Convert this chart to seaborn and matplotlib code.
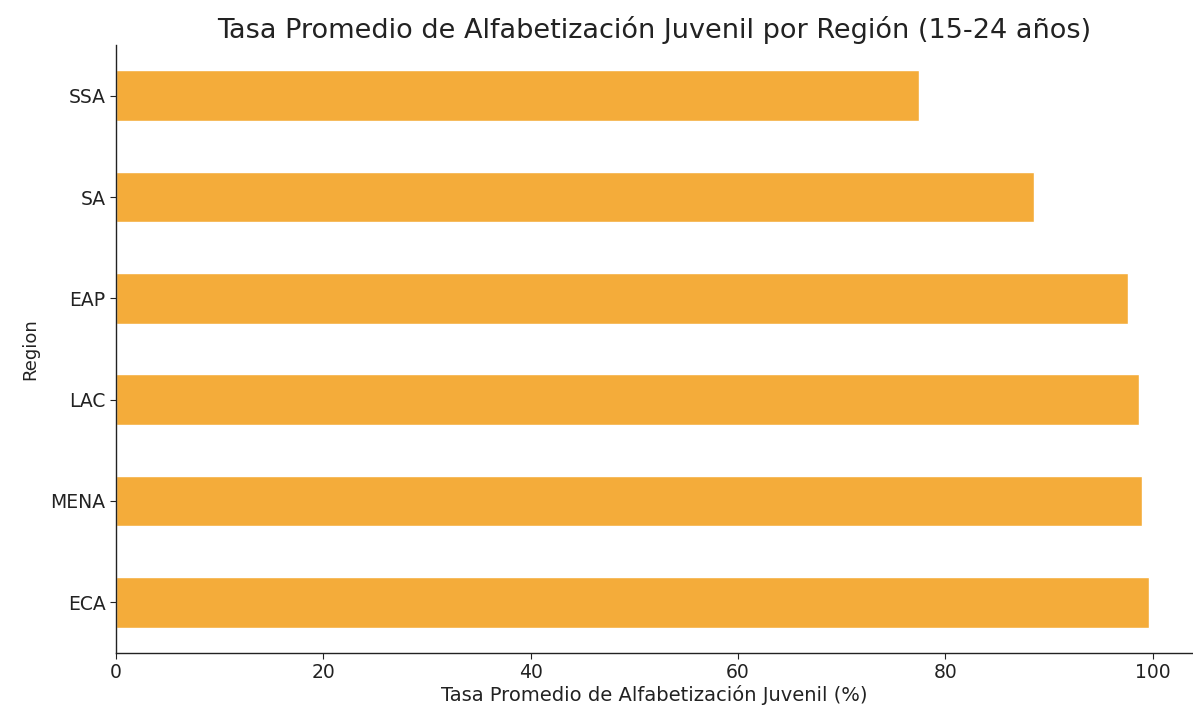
import matplotlib
matplotlib.use("Agg")
import matplotlib.pyplot as plt
import seaborn as sns
import pandas as pd

# Average youth literacy rate (15-24) by region
regions = ["SSA", "SA", "EAP", "LAC", "MENA", "ECA"]
literacy = [77.5, 88.6, 97.6, 98.7, 99.0, 99.7]

df = pd.DataFrame({"Region": regions, "Literacy": literacy})

sns.set_style("white")
plt.rcParams["font.family"] = ["DejaVu Sans"]

fig = plt.figure(figsize=(11.93, 7.10), dpi=100)
ax = fig.add_axes([0.0972, 0.0803, 0.9028, 0.8563])

sns.barplot(data=df, x="Literacy", y="Region", order=regions,
            color="#F4AC3A", saturation=1, width=0.5, ax=ax)

ax.set_xlim(0, 103.9)
ax.set_ylim(5.5, -0.5)
ax.set_xticks([0, 20, 40, 60, 80, 100])

ax.set_title("Tasa Promedio de Alfabetización Juvenil por Región (15-24 años)",
             fontsize=19.5, color="#222222", pad=5)
ax.set_xlabel("Tasa Promedio de Alfabetización Juvenil (%)", fontsize=14,
              color="#222222", labelpad=2)
ax.set_ylabel("Region", fontsize=13, color="#222222", labelpad=8)

ax.tick_params(axis="both", labelsize=13.5, colors="#222222",
               length=4, width=0.8, direction="out", bottom=True, left=True)
for side in ["top", "right"]:
    ax.spines[side].set_visible(False)
for side in ["left", "bottom"]:
    ax.spines[side].set_color("#222222")
    ax.spines[side].set_linewidth(1.0)

fig.savefig("out.png", dpi=100)
